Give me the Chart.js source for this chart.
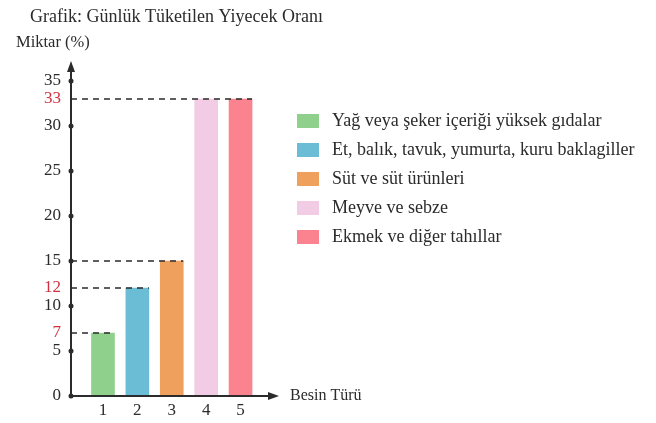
<!DOCTYPE html>
<html>
<head>
<meta charset="utf-8">
<script src="https://cdn.jsdelivr.net/npm/chart.js@4/dist/chart.umd.min.js"></script>
<style>
  body { margin: 0; background: #fff; }
  #wrap { width: 656px; height: 423px; }
</style>
</head>
<body>
<div id="wrap"><canvas id="foodChart" width="656" height="423"></canvas></div>
<script>
// chart data
const categories = [1, 2, 3, 4, 5];
const foodLabels = [
    'Yağ veya şeker içeriği yüksek gıdalar',
    'Et, balık, tavuk, yumurta, kuru baklagiller',
    'Süt ve süt ürünleri',
    'Meyve ve sebze',
    'Ekmek ve diğer tahıllar'
];
const shares = [7, 12, 15, 33, 33];
const yTicks = [0, 5, 7, 10, 12, 15, 20, 25, 30, 33, 35];
const markedTicks = [7, 12, 33];
const guideValues = [7, 12, 15, 33];

const barColors = ['#8fd18c', '#6bbcd5', '#eea05c', '#f2cce4', '#fb838f'];
const FONT = '"Liberation Serif", "DejaVu Serif", serif';
const INK = '#2b2b2b';
const RED = '#d2323f';

// axes, arrows, dashed guides, titles and legend
const decorPlugin = {
    id: 'decor',
    afterDatasetsDraw(chart) {
        const ctx = chart.ctx;
        const xs = chart.scales.x;
        const ys = chart.scales.y;
        const x0 = chart.chartArea.left;
        const y0 = ys.getPixelForValue(0);
        const meta = chart.getDatasetMeta(0);

        ctx.save();

        // dashed guides to the top of the bars
        ctx.strokeStyle = INK;
        ctx.lineWidth = 1.3;
        ctx.setLineDash([6, 5]);
        guideValues.forEach(v => {
            let right = x0;
            shares.forEach((s, i) => {
                if (s === v) {
                    const bar = meta.data[i];
                    right = Math.max(right, bar.x + bar.width / 2);
                }
            });
            const y = ys.getPixelForValue(v);
            ctx.beginPath();
            ctx.moveTo(x0, y);
            ctx.lineTo(right, y);
            ctx.stroke();
        });
        ctx.setLineDash([]);

        // axis lines
        const yTop = chart.chartArea.top - 2;
        const xEnd = xs.right + 2;
        ctx.lineWidth = 2;
        ctx.beginPath();
        ctx.moveTo(x0, y0);
        ctx.lineTo(x0, yTop + 6);
        ctx.moveTo(x0, y0);
        ctx.lineTo(xEnd - 6, y0);
        ctx.stroke();

        // arrow heads
        ctx.fillStyle = INK;
        ctx.beginPath();
        ctx.moveTo(x0, yTop);
        ctx.lineTo(x0 - 4, yTop + 11);
        ctx.lineTo(x0 + 4, yTop + 11);
        ctx.closePath();
        ctx.fill();
        ctx.beginPath();
        ctx.moveTo(xEnd, y0);
        ctx.lineTo(xEnd - 11, y0 - 4);
        ctx.lineTo(xEnd - 11, y0 + 4);
        ctx.closePath();
        ctx.fill();

        // dots on the regular ticks
        yTicks.filter(v => !markedTicks.includes(v)).forEach(v => {
            ctx.beginPath();
            ctx.arc(x0, ys.getPixelForValue(v), 2.5, 0, Math.PI * 2);
            ctx.fill();
        });

        // titles
        ctx.fillStyle = INK;
        ctx.textBaseline = 'middle';
        ctx.textAlign = 'left';
        ctx.font = '18px ' + FONT;
        ctx.fillText('Grafik: Günlük Tüketilen Yiyecek Oranı', 30, 17);
        ctx.font = '16.5px ' + FONT;
        ctx.fillText('Miktar (%)', 16, 43);
        ctx.font = '16px ' + FONT;
        ctx.fillText('Besin Türü', 290, y0);

        // legend
        ctx.font = '18px ' + FONT;
        foodLabels.forEach((label, i) => {
            const cy = 121 + i * 29;
            ctx.fillStyle = barColors[i];
            ctx.fillRect(297, cy - 7, 22, 14);
            ctx.fillStyle = INK;
            ctx.fillText(label, 332, cy);
        });

        ctx.restore();
    }
};

const ctx = document.getElementById('foodChart').getContext('2d');
new Chart(ctx, {
    type: 'bar',
    data: {
        datasets: [{
            label: 'Miktar (%)',
            data: categories.map((c, i) => ({ x: c, y: shares[i] })),
            backgroundColor: barColors,
            borderWidth: 0,
            barThickness: 23
        }]
    },
    options: {
        responsive: false,
        animation: false,
        devicePixelRatio: 1,
        layout: { padding: { left: 0, top: 63, right: 379, bottom: 0 } },
        plugins: {
            legend: { display: false },
            tooltip: { enabled: false }
        },
        scales: {
            x: {
                type: 'linear',
                offset: false,
                min: 0.07,
                max: 6.06,
                grid: { display: false, drawTicks: false },
                border: { display: false },
                afterBuildTicks: scale => {
                    scale.ticks = categories.map(v => ({ value: v }));
                },
                afterFit: scale => { scale.height = 27; },
                ticks: {
                    padding: 4,
                    color: INK,
                    font: { family: FONT, size: 17 }
                }
            },
            y: {
                min: 0,
                max: 37,
                grid: { display: false, drawTicks: false },
                border: { display: false },
                afterBuildTicks: scale => {
                    scale.ticks = yTicks.map(v => ({ value: v }));
                },
                afterFit: scale => { scale.width = 71; },
                ticks: {
                    padding: 10,
                    autoSkip: false,
                    color: c => markedTicks.includes(c.tick.value) ? RED : INK,
                    font: { family: FONT, size: 17 }
                }
            }
        }
    },
    plugins: [decorPlugin]
});
</script>
</body>
</html>
